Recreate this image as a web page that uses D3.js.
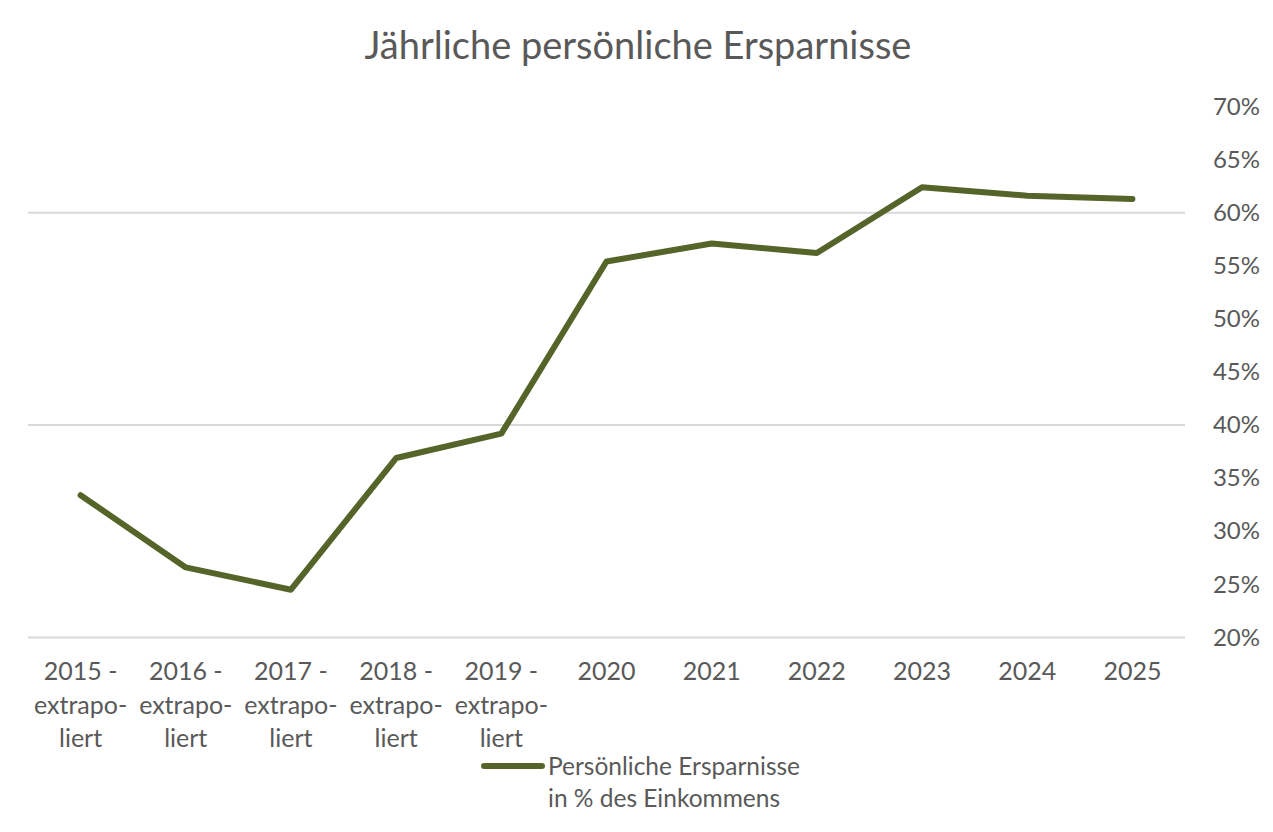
<!DOCTYPE html>
<html>
<head>
<meta charset="utf-8">
<script src="https://cdn.jsdelivr.net/npm/d3@7"></script>
<style>
  body { margin: 0; background: #fff; }
  text { font-family: Lato, "Open Sans", sans-serif; fill: #595959; }
</style>
</head>
<body>
<div id="chart"></div>
<script>
let width = 1273;
let height = 832;

let years = ["2015", "2016", "2017", "2018", "2019", "2020", "2021", "2022", "2023", "2024", "2025"];
let extrapolated = [true, true, true, true, true, false, false, false, false, false, false];
let savings = [33.4, 26.6, 24.5, 36.9, 39.2, 55.4, 57.1, 56.2, 62.4, 61.6, 61.3];
let yTicks = [20, 25, 30, 35, 40, 45, 50, 55, 60, 65, 70];
let gridTicks = [20, 40, 60];

let svg = d3.select("div#chart").append("svg")
    .attr("width", width)
    .attr("height", height);

svg.append("text")
    .attr("x", 638)
    .attr("y", 59)
    .attr("text-anchor", "middle")
    .style("font-size", "38px")
    .text("Jährliche persönliche Ersparnisse");

let x = d3.scaleBand()
    .domain(years)
    .range([28, 1185]);

let y = d3.scaleLinear()
    .domain([20, 70])
    .range([637.5, 106.5]);

// gridlines only every 20 %
gridTicks.forEach(t =>
    svg.append("line")
        .attr("x1", 28)
        .attr("x2", 1185)
        .attr("y1", y(t))
        .attr("y2", y(t))
        .attr("stroke", "#d9d9d9")
        .attr("stroke-width", 2)
);

let yAxis = svg.append("g")
    .attr("transform", "translate(1260,0)")
    .call(d3.axisRight(y).tickValues(yTicks).tickFormat(d => d + "%").tickSize(0).tickPadding(0));
yAxis.select(".domain").remove();
yAxis.selectAll("text")
    .attr("text-anchor", "end")
    .style("font-size", "24px")
    .style("fill", "#595959");

let xLabels = svg.append("g");
years.forEach((yr, i) => {
    let lines = extrapolated[i] ? [yr + " -", "extrapo-", "liert"] : [yr];
    let t = xLabels.append("text")
        .attr("x", x(yr) + x.bandwidth() / 2)
        .attr("y", 680)
        .attr("text-anchor", "middle")
        .style("font-size", "25px");
    lines.forEach((l, j) =>
        t.append("tspan")
            .attr("x", x(yr) + x.bandwidth() / 2)
            .attr("dy", j === 0 ? 0 : 33.5)
            .text(l)
    );
});

let line = d3.line()
    .x((d, i) => x(years[i]) + x.bandwidth() / 2)
    .y(d => y(d));

svg.append("path")
    .datum(savings)
    .attr("d", line)
    .attr("fill", "none")
    .attr("stroke", "#55652a")
    .attr("stroke-width", 6)
    .attr("stroke-linejoin", "round")
    .attr("stroke-linecap", "round");

// legend
svg.append("line")
    .attr("x1", 484)
    .attr("x2", 542)
    .attr("y1", 766)
    .attr("y2", 766)
    .attr("stroke", "#55652a")
    .attr("stroke-width", 6)
    .attr("stroke-linecap", "round");

let legendText = svg.append("text")
    .attr("x", 548)
    .attr("y", 775)
    .style("font-size", "24.5px");
legendText.append("tspan").attr("x", 548).text("Persönliche Ersparnisse");
legendText.append("tspan").attr("x", 548).attr("dy", 31.5).text("in % des Einkommens");
</script>
</body>
</html>
